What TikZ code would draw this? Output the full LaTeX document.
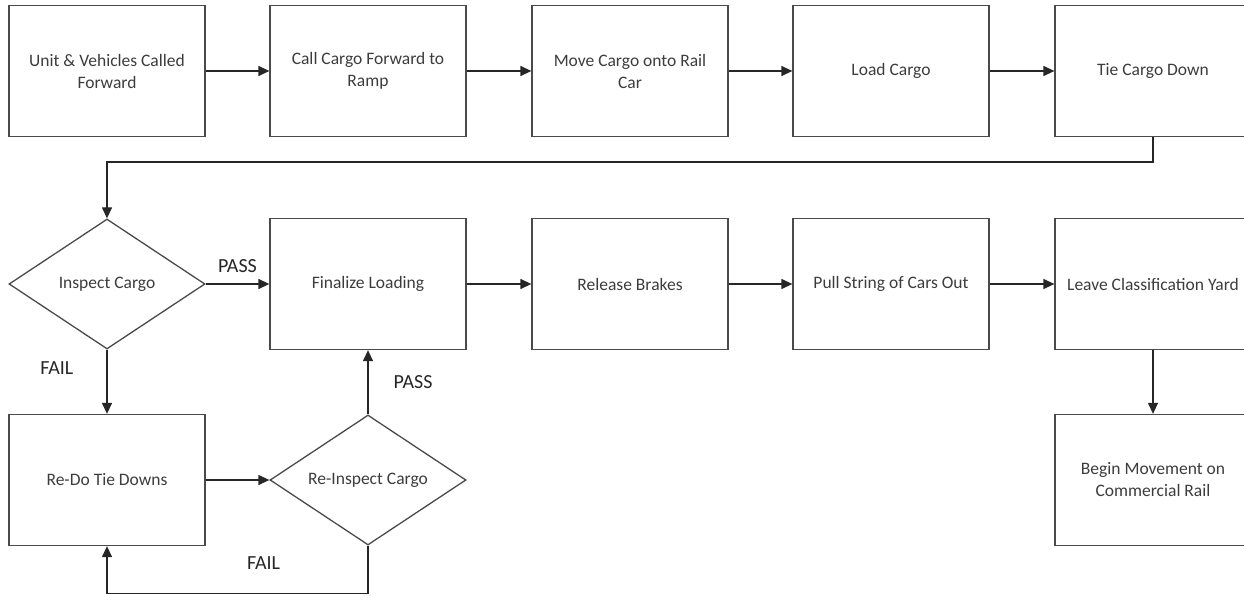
\documentclass[tikz,border=0pt]{standalone}
\usepackage{fontspec}
\setmainfont{Carlito}
\usetikzlibrary{shapes.geometric,arrows.meta}
\definecolor{boxgray}{HTML}{4A4A4A}
\definecolor{txtgray}{HTML}{3C3C3C}
\tikzset{
  stepbox/.style={draw=boxgray, line width=1.3pt, minimum width=196pt,
    minimum height=131pt, inner sep=0pt, align=center, text=txtgray,
    font=\fontsize{17.5}{22}\selectfont},
  decision/.style={diamond, draw=boxgray, line width=1.3pt, minimum width=196pt,
    minimum height=130pt, inner sep=0pt, shape aspect=1.5, text=txtgray,
    font=\fontsize{17.5}{22}\selectfont},
  flow/.style={-{Triangle[length=11pt,width=10pt]}, line width=1.3pt, draw=black!85},
  lbl/.style={inner sep=0pt, text=black!85, font=\fontsize{20}{24}\selectfont}
}
\begin{document}
\begin{tikzpicture}[x=1pt,y=-1pt]
      \clip (0,0) rectangle (1244,596);
      \draw
        (107,71) node[stepbox] (load0){Unit \& Vehicles Called\\Forward}
        (368,71) node[stepbox] (load1){Call Cargo Forward to\\Ramp}
        (630,71) node[stepbox] (load2){Move Cargo onto Rail\\Car}
        (891,71) node[stepbox] (load3){Load Cargo}
        (1153,71) node[stepbox] (load4){Tie Cargo Down}
        (107,284) node[decision] (check){Inspect Cargo}
        (368,284) node[stepbox] (final){Finalize Loading}
        (630,284) node[stepbox] (brake){Release Brakes}
        (891,284) node[stepbox] (pull){Pull String of Cars Out}
        (1153,284) node[stepbox] (leave){Leave Classification Yard}
        (107,480) node[stepbox] (redo){Re-Do Tie Downs}
        (368,480) node[decision] (recheck){Re-Inspect Cargo}
        (1153,480) node[stepbox] (rail){Begin Movement on\\Commercial Rail};
      \begin{scope}[flow]
        \draw (load0) to (load1);
        \draw (load1) to (load2);
        \draw (load2) to (load3);
        \draw (load3) to (load4);
        \draw (load4.south) -- ++(0,25) -| (check);
        \draw (check) -- node[lbl, above=11pt]{PASS} (final);
        \draw (check) -- node[lbl, pos=0.28, left=33pt]{FAIL} (redo);
        \draw (redo) to (recheck);
        \draw (recheck) -- node[lbl, right=25pt]{PASS} (final);
        \draw (recheck.south) -- ++(0,48) -| node[lbl, pos=0.2, above=24pt]{FAIL} (redo);
        \draw (final) to (brake);
        \draw (brake) to (pull);
        \draw (pull) to (leave);
        \draw (leave) to (rail);
      \end{scope}
    \end{tikzpicture}
\end{document}
